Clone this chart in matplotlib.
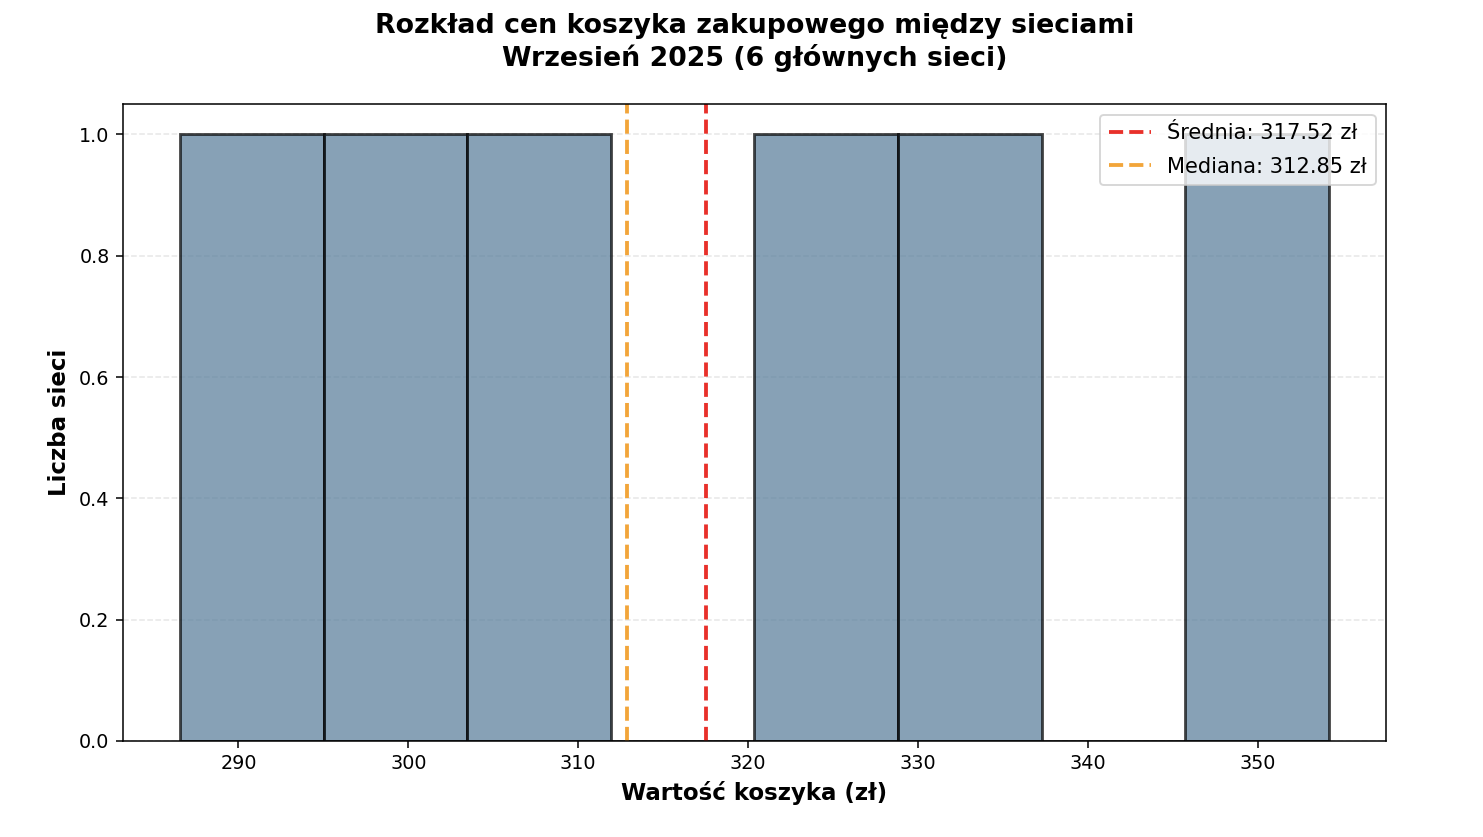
import numpy as np
import matplotlib
matplotlib.use("Agg")
import matplotlib.pyplot as plt

# Basket values (zł) for 6 chains
basket_values = [286.58, 302.50, 305.00, 320.70, 336.16, 354.18]
n_bins = 8

title = "Rozkład cen koszyka zakupowego między sieciami\nWrzesień 2025 (6 głównych sieci)"
xlabel = "Wartość koszyka (zł)"
ylabel = "Liczba sieci"

mean_v = np.mean(basket_values)
median_v = np.median(basket_values)

DPI = 137.5
fig = plt.figure(figsize=(1483 / DPI, 837 / DPI), dpi=DPI)
ax = fig.add_axes([0.0829, 0.1147, 0.9346 - 0.0829, 0.8757 - 0.1147])

ax.hist(basket_values, bins=n_bins, color="#547A98", alpha=0.7,
        edgecolor="black", linewidth=1.5)
ax.axvline(mean_v, color="#E8302A", linestyle="--", linewidth=2,
           label=f"Średnia: {mean_v:.2f} zł")
ax.axvline(median_v, color="#F2A53A", linestyle="--", linewidth=2,
           label=f"Mediana: {median_v:.2f} zł")

ax.set_title(title, fontsize=14, fontweight="bold", pad=20)
ax.set_xlabel(xlabel, fontsize=12, fontweight="bold")
ax.set_ylabel(ylabel, fontsize=12, fontweight="bold")
ax.grid(axis="y", alpha=0.3, linestyle="--")
ax.set_axisbelow(True)
ax.legend(loc="upper right", fontsize=11, labelspacing=0.65)

fig.savefig("out.png", dpi=DPI)
